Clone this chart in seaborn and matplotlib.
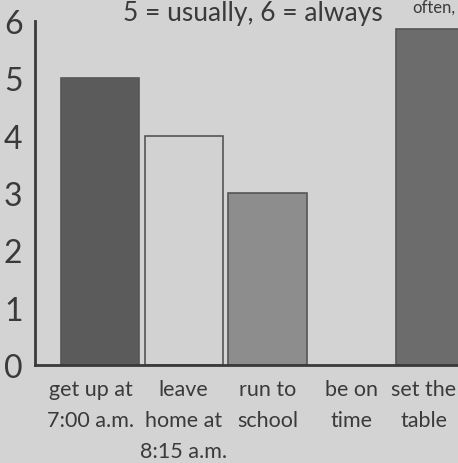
import numpy as np
import pandas as pd
import matplotlib
matplotlib.use("Agg")
import matplotlib.pyplot as plt
import matplotlib.transforms as mtransforms
import seaborn as sns

# Data
activities = ["get up at\n7:00 a.m.", "leave\nhome at\n8:15 a.m.", "run to\nschool", "be on\ntime", "set the\ntable"]
scores = [5, 4, 3, 0, 5.85]
bar_colors = ["#5b5b5b", "#d2d2d2", "#8d8d8d", "#d6d6d6", "#6c6c6c"]
yticks = [0, 1, 2, 3, 4, 5, 6]

df = pd.DataFrame({"activity": activities, "score": scores})

sns.set_style("white")
plt.rcParams["font.family"] = ["Lato", "DejaVu Sans"]

ink = "#3a3a3a"
paper = "#d3d3d3"

fig = plt.figure(figsize=(4.58, 4.64), dpi=100)
fig.patch.set_facecolor(paper)
ax = fig.add_axes([0.0764, 0.211, 0.9236, 0.742])
ax.set_facecolor("none")

sns.barplot(data=df, x="activity", y="score", hue="activity", palette=bar_colors,
            legend=False, width=0.93, ax=ax, saturation=1)
for patch, val in zip(ax.patches, scores):
    if val > 0:
        patch.set_edgecolor("#555555")
        patch.set_linewidth(1.2)

ax.set_xlim(-0.77, 4.27)
ax.set_ylim(0, 6)
ax.set_yticks(yticks)
ax.set_yticklabels([str(t) for t in yticks], fontsize=23, color=ink)
ax.tick_params(axis="y", direction="in", length=11, width=2, color=ink, pad=9)
ax.tick_params(axis="x", length=0, pad=10)
ax.set_xticks(range(len(activities)))
ax.set_xticklabels(activities, fontsize=15.5, color=ink, linespacing=1.7)
ax.set_xlabel("")
ax.set_ylabel("")

# nudge the outer labels the way they sit on the page
labels = ax.get_xticklabels()
for lab, dx in [(labels[0], -0.09), (labels[-1], -0.115)]:
    lab.set_transform(lab.get_transform() +
                      mtransforms.ScaledTranslation(dx, 0, fig.dpi_scale_trans))

for side in ["top", "right"]:
    ax.spines[side].set_visible(False)
for side in ["left", "bottom"]:
    ax.spines[side].set_color(ink)
    ax.spines[side].set_linewidth(2)

fig.text(0.553, 0.997, "5 = usually, 6 = always", fontsize=19, color=ink,
         ha="center", va="top")
fig.text(0.995, 1.0, "often,", fontsize=12, color=ink, ha="right", va="top")

fig.savefig("out.png", dpi=100, facecolor=paper)
